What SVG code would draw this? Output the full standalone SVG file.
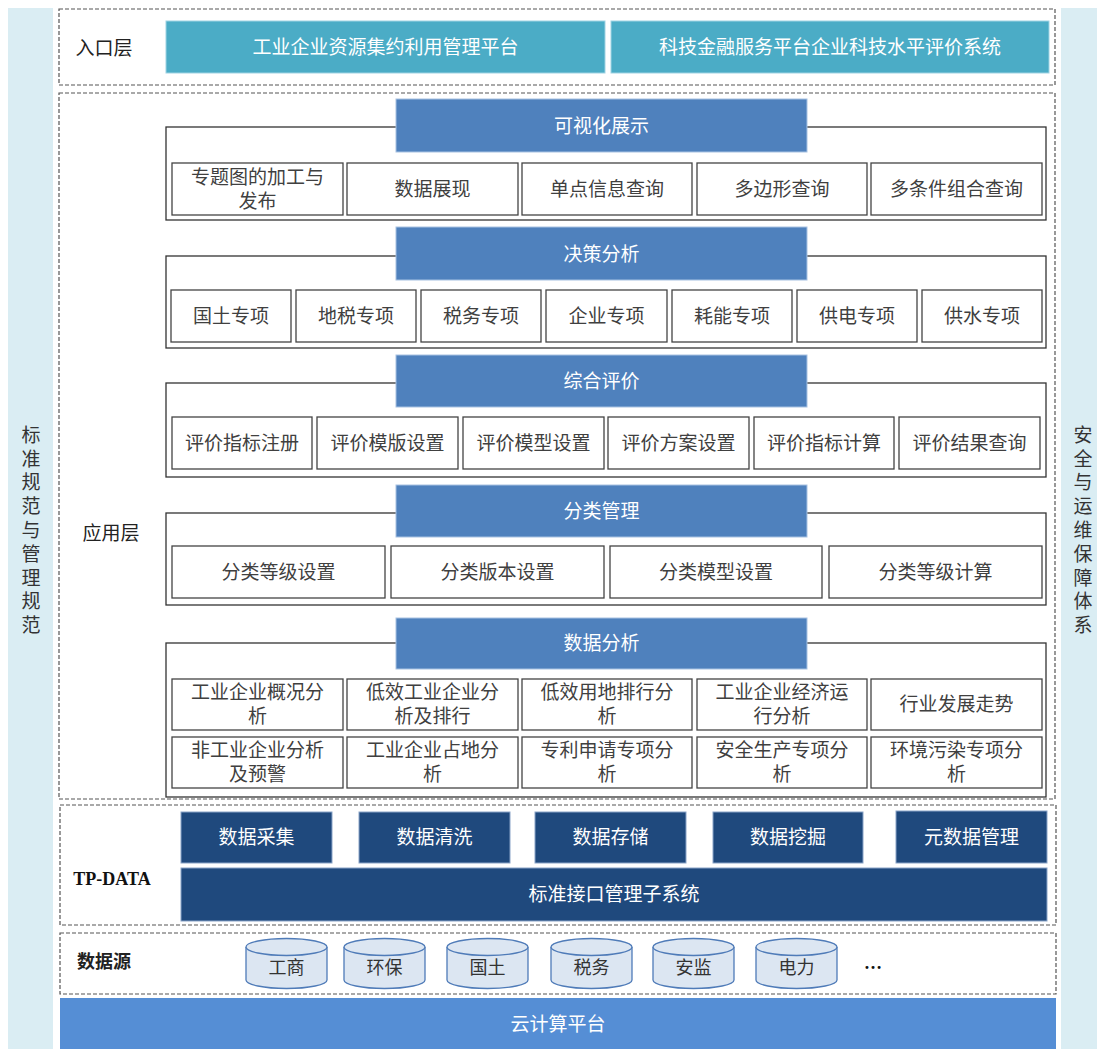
<svg xmlns="http://www.w3.org/2000/svg" width="1097" height="1049" viewBox="0 0 1097 1049">
<style>
text{font-family:"Liberation Serif","Noto Sans CJK SC",serif;text-anchor:middle;dominant-baseline:central}
.side{fill:#daedf3}
.dash{fill:#fff;stroke:#555;stroke-width:1.2;stroke-dasharray:4 2}
.entry{fill:#4bacc6;stroke:#9fd3e3;stroke-width:1}
.hdr{fill:#4f81bd;stroke:#a8c2e2;stroke-width:1}
.grp{fill:#fff;stroke:#333;stroke-width:1.3}
.box{fill:#fff;stroke:#444;stroke-width:1.3}
.tp{fill:#1f497d;stroke:#8aa4c8;stroke-width:1}
.cloud{fill:#558ed5}
.cyl{fill:#dce6f2;stroke:#4f7bb8;stroke-width:1.3}
.w{fill:#fff;font-size:19px}
.t{fill:#404040;font-size:19px}
.lbl{fill:#222;font-size:19px}
.sd{fill:#333;font-size:19px}
.c{fill:#333;font-size:18px}
</style>
<g id="side-left"><rect class="side" x="8" y="8" width="45" height="1041"/>
<text class="sd"><tspan x="31" y="435">标</tspan><tspan x="31" y="459">准</tspan><tspan x="31" y="482">规</tspan><tspan x="31" y="506">范</tspan><tspan x="31" y="530">与</tspan><tspan x="31" y="554">管</tspan><tspan x="31" y="578">理</tspan><tspan x="31" y="601">规</tspan><tspan x="31" y="625">范</tspan></text></g>
<g id="side-right"><rect class="side" x="1061" y="8" width="36" height="1041"/>
<text class="sd"><tspan x="1083" y="435">安</tspan><tspan x="1083" y="459">全</tspan><tspan x="1083" y="482">与</tspan><tspan x="1083" y="506">运</tspan><tspan x="1083" y="530">维</tspan><tspan x="1083" y="554">保</tspan><tspan x="1083" y="578">障</tspan><tspan x="1083" y="601">体</tspan><tspan x="1083" y="625">系</tspan></text></g>

<g id="entry-layer"><rect class="dash" x="59" y="9" width="996" height="76"/>
<text class="lbl" x="104" y="48">入口层</text>
<rect class="entry" x="166" y="21" width="439" height="52"/><text class="w" x="385.5" y="47">工业企业资源集约利用管理平台</text>
<rect class="entry" x="611" y="21" width="438" height="52"/><text class="w" x="830" y="47">科技金融服务平台企业科技水平评价系统</text></g>

<g id="app-layer"><rect class="dash" x="59" y="93" width="996" height="706"/>
<text class="lbl" x="111" y="533">应用层</text></g>

<g id="visual"><rect class="grp" x="166" y="127" width="880" height="93"/>
<rect class="hdr" x="396" y="99" width="411" height="53"/><text class="w" x="601.5" y="126">可视化展示</text>
<rect class="box" x="172" y="163" width="171" height="52"/><text class="t" x="257.5" y="177.5">专题图的加工与</text><text class="t" x="257.5" y="201">发布</text>
<rect class="box" x="347" y="163" width="171" height="52"/><text class="t" x="432.5" y="189">数据展现</text>
<rect class="box" x="522" y="163" width="170" height="52"/><text class="t" x="607" y="189">单点信息查询</text>
<rect class="box" x="697" y="163" width="170" height="52"/><text class="t" x="782" y="189">多边形查询</text>
<rect class="box" x="871" y="163" width="171" height="52"/><text class="t" x="956.5" y="189">多条件组合查询</text></g>

<g id="decision"><rect class="grp" x="166" y="256" width="880" height="92"/>
<rect class="hdr" x="396" y="227" width="411" height="53"/><text class="w" x="601.5" y="254">决策分析</text>
<rect class="box" x="171" y="290" width="120" height="52"/><text class="t" x="231" y="316">国土专项</text>
<rect class="box" x="296" y="290" width="120" height="52"/><text class="t" x="356" y="316">地税专项</text>
<rect class="box" x="421" y="290" width="120" height="52"/><text class="t" x="481" y="316">税务专项</text>
<rect class="box" x="546" y="290" width="121" height="52"/><text class="t" x="606.5" y="316">企业专项</text>
<rect class="box" x="672" y="290" width="120" height="52"/><text class="t" x="732" y="316">耗能专项</text>
<rect class="box" x="797" y="290" width="120" height="52"/><text class="t" x="857" y="316">供电专项</text>
<rect class="box" x="922" y="290" width="120" height="52"/><text class="t" x="982" y="316">供水专项</text></g>

<g id="evaluation"><rect class="grp" x="166" y="383" width="880" height="94"/>
<rect class="hdr" x="396" y="355" width="411" height="52"/><text class="w" x="601.5" y="381">综合评价</text>
<rect class="box" x="172" y="417" width="140" height="52"/><text class="t" x="242" y="443">评价指标注册</text>
<rect class="box" x="317" y="417" width="141" height="52"/><text class="t" x="387.5" y="443">评价模版设置</text>
<rect class="box" x="463" y="417" width="141" height="52"/><text class="t" x="533.5" y="443">评价模型设置</text>
<rect class="box" x="608" y="417" width="141" height="52"/><text class="t" x="678.5" y="443">评价方案设置</text>
<rect class="box" x="754" y="417" width="140" height="52"/><text class="t" x="824" y="443">评价指标计算</text>
<rect class="box" x="899" y="417" width="141" height="52"/><text class="t" x="969.5" y="443">评价结果查询</text></g>

<g id="classification"><rect class="grp" x="166" y="513" width="880" height="92"/>
<rect class="hdr" x="396" y="485" width="411" height="52"/><text class="w" x="601.5" y="511">分类管理</text>
<rect class="box" x="172" y="546" width="213" height="52"/><text class="t" x="278.5" y="572">分类等级设置</text>
<rect class="box" x="391" y="546" width="213" height="52"/><text class="t" x="497.5" y="572">分类版本设置</text>
<rect class="box" x="610" y="546" width="212" height="52"/><text class="t" x="716" y="572">分类模型设置</text>
<rect class="box" x="829" y="546" width="213" height="52"/><text class="t" x="935.5" y="572">分类等级计算</text></g>

<g id="analysis"><rect class="grp" x="166" y="643" width="880" height="154"/>
<rect class="hdr" x="396" y="618" width="411" height="51"/><text class="w" x="601.5" y="643">数据分析</text>
<rect class="box" x="172" y="679" width="171" height="51"/><text class="t" x="257.5" y="692">工业企业概况分</text><text class="t" x="257.5" y="716">析</text>
<rect class="box" x="347" y="679" width="171" height="51"/><text class="t" x="432.5" y="692">低效工业企业分</text><text class="t" x="432.5" y="716">析及排行</text>
<rect class="box" x="522" y="679" width="170" height="51"/><text class="t" x="607" y="692">低效用地排行分</text><text class="t" x="607" y="716">析</text>
<rect class="box" x="697" y="679" width="170" height="51"/><text class="t" x="782" y="692">工业企业经济运</text><text class="t" x="782" y="716">行分析</text>
<rect class="box" x="871" y="679" width="171" height="51"/><text class="t" x="956.5" y="704.5">行业发展走势</text>
<rect class="box" x="172" y="737" width="171" height="51"/><text class="t" x="257.5" y="750">非工业企业分析</text><text class="t" x="257.5" y="774">及预警</text>
<rect class="box" x="347" y="737" width="171" height="51"/><text class="t" x="432.5" y="750">工业企业占地分</text><text class="t" x="432.5" y="774">析</text>
<rect class="box" x="522" y="737" width="170" height="51"/><text class="t" x="607" y="750">专利申请专项分</text><text class="t" x="607" y="774">析</text>
<rect class="box" x="697" y="737" width="170" height="51"/><text class="t" x="782" y="750">安全生产专项分</text><text class="t" x="782" y="774">析</text>
<rect class="box" x="871" y="737" width="171" height="51"/><text class="t" x="956.5" y="750">环境污染专项分</text><text class="t" x="956.5" y="774">析</text></g>

<g id="tp-data"><rect class="dash" x="60" y="805" width="996" height="120"/>
<text x="112" y="879" style="font-size:18px;font-weight:bold;fill:#111">TP-DATA</text>
<rect class="tp" x="181" y="812" width="151" height="51"/><text class="w" x="256.5" y="837.5">数据采集</text>
<rect class="tp" x="359" y="812" width="151" height="51"/><text class="w" x="434.5" y="837.5">数据清洗</text>
<rect class="tp" x="535" y="812" width="151" height="51"/><text class="w" x="610.5" y="837.5">数据存储</text>
<rect class="tp" x="713" y="812" width="150" height="51"/><text class="w" x="788" y="837.5">数据挖掘</text>
<rect class="tp" x="896" y="811" width="151" height="52"/><text class="w" x="971.5" y="837">元数据管理</text>
<rect class="tp" x="181" y="868" width="866" height="53"/><text class="w" x="614" y="894.5">标准接口管理子系统</text></g>

<g id="data-source"><rect class="dash" x="60" y="933" width="996" height="61"/>
<text x="104" y="962" style="font-size:18px;font-weight:bold;fill:#222">数据源</text>
<g id="cyl-1"><path class="cyl" d="M246 947 v33 a40.5 8.5 0 0 0 81 0 v-33"/><ellipse class="cyl" cx="286.5" cy="947" rx="40.5" ry="8.5"/><text class="c" x="286.5" y="968">工商</text></g>
<g id="cyl-2"><path class="cyl" d="M344 947 v33 a40.5 8.5 0 0 0 81 0 v-33"/><ellipse class="cyl" cx="384.5" cy="947" rx="40.5" ry="8.5"/><text class="c" x="384.5" y="968">环保</text></g>
<g id="cyl-3"><path class="cyl" d="M447 947 v33 a40.5 8.5 0 0 0 81 0 v-33"/><ellipse class="cyl" cx="487.5" cy="947" rx="40.5" ry="8.5"/><text class="c" x="487.5" y="968">国土</text></g>
<g id="cyl-4"><path class="cyl" d="M551 947 v33 a40.5 8.5 0 0 0 81 0 v-33"/><ellipse class="cyl" cx="591.5" cy="947" rx="40.5" ry="8.5"/><text class="c" x="591.5" y="968">税务</text></g>
<g id="cyl-5"><path class="cyl" d="M653 947 v33 a40.5 8.5 0 0 0 81 0 v-33"/><ellipse class="cyl" cx="693.5" cy="947" rx="40.5" ry="8.5"/><text class="c" x="693.5" y="968">安监</text></g>
<g id="cyl-6"><path class="cyl" d="M756 947 v33 a40.5 8.5 0 0 0 81 0 v-33"/><ellipse class="cyl" cx="796.5" cy="947" rx="40.5" ry="8.5"/><text class="c" x="796.5" y="968">电力</text></g>
<text x="873" y="963" style="font-size:18px;font-weight:bold;fill:#111">…</text></g>

<g id="cloud"><rect class="cloud" x="60" y="998" width="996" height="51"/><text class="w" x="558" y="1024">云计算平台</text></g>
<g id="connectors"/>
</svg>
